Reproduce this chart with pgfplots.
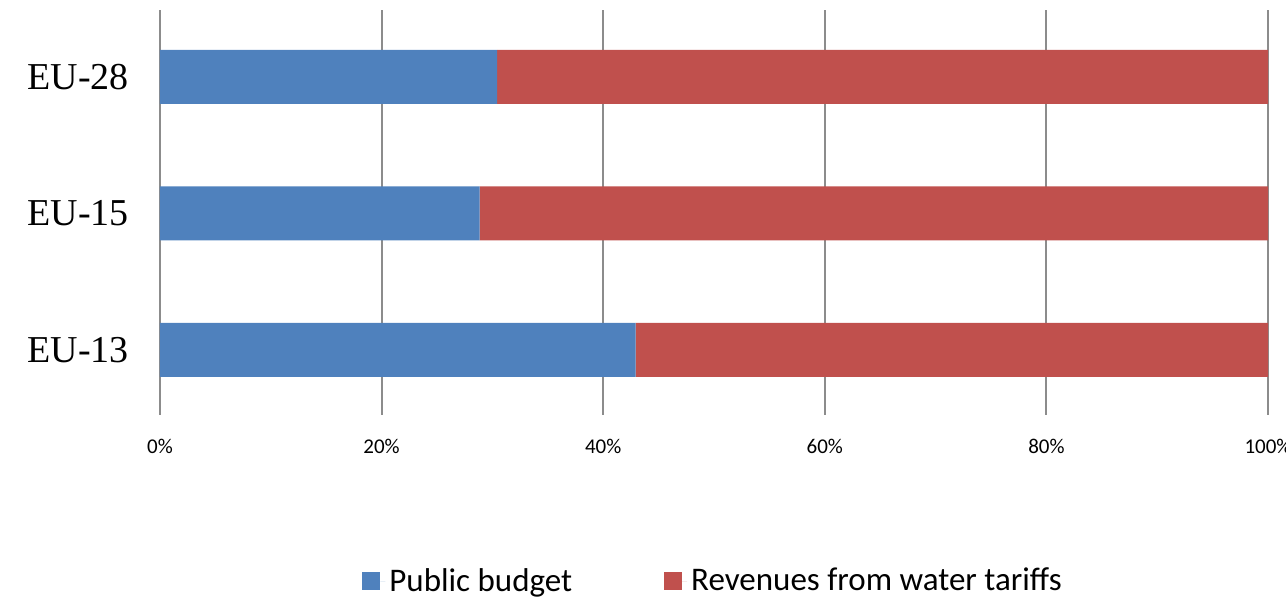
\documentclass[border=0pt]{standalone}
\usepackage{pgfplots}
\pgfplotsset{compat=1.18}
\usepackage{fontspec}
\setmainfont{Liberation Serif}
\newfontfamily\calibri{Carlito}

\definecolor{pubblue}{HTML}{4F81BD}
\definecolor{revred}{HTML}{C0504D}
\definecolor{gridgray}{HTML}{8C8C8C}

\begin{document}
\begin{tikzpicture}
\begin{axis}[
  width=554pt, height=202.5pt,
  scale only axis,
  xbar stacked,
  bar width=27pt,
  xmin=0, xmax=100,
  ymin=-0.476, ymax=2.49,
  axis line style={draw=none},
  major tick length=0pt,
  xtick={0,20,40,60,80,100},
  xticklabels={0\%,20\%,40\%,60\%,80\%,100\%},
  ytick={0,1,2},
  yticklabels={EU-13,EU-15,EU-28},
  xmajorgrids,
  grid style={gridgray, line width=1pt},
  xticklabel style={font=\calibri\fontsize{10.5}{12}\selectfont, yshift=-8.5pt},
  yticklabel style={font=\fontsize{19}{22}\selectfont, xshift=-12pt},
  legend style={
    at={(0.5,-0.41)}, anchor=center, draw=none,
    font=\calibri\fontsize{16.5}{19}\selectfont,
    legend columns=2,
    /tikz/every even column/.append style={column sep=44pt},
  },
  legend image code/.code={\fill[#1] (0pt,-4.5pt) rectangle (9pt,4.5pt);
    \path (9pt,0pt) -- (11.5pt,0pt);},
]
\addplot+[draw=none, fill=pubblue] coordinates {(42.93,0) (28.85,1) (30.42,2)};
\addplot+[draw=none, fill=revred] coordinates {(57.07,0) (71.15,1) (69.58,2)};
\legend{Public budget, Revenues from water tariffs}
\end{axis}
\pgfresetboundingbox
\useasboundingbox ([xshift=-80pt,yshift=5pt]current axis.north west) rectangle ([xshift=9pt,yshift=-91.5pt]current axis.south east);
\end{tikzpicture}
\end{document}
